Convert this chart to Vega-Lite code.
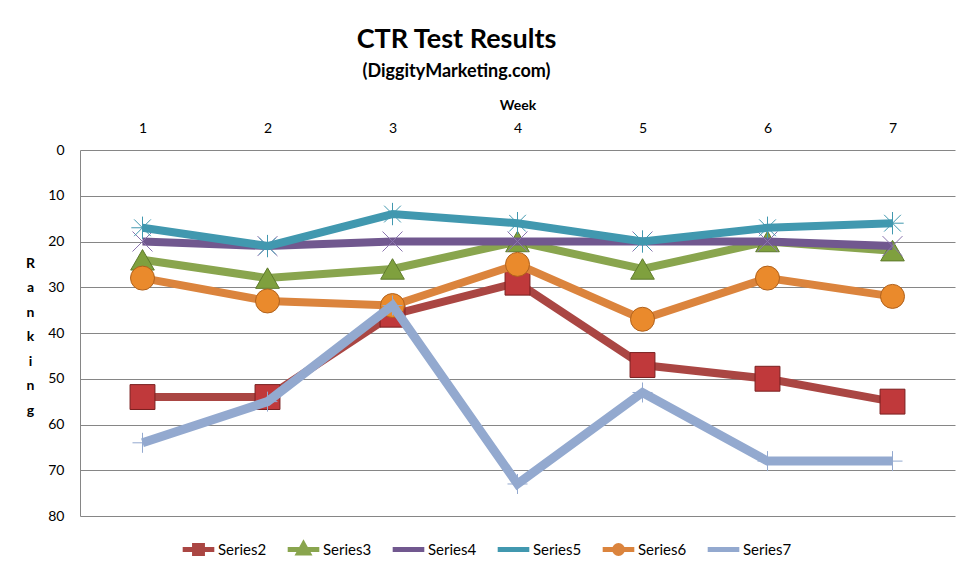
{
  "$schema": "https://vega.github.io/schema/vega-lite/v6.json",
  "width": 875,
  "height": 366,
  "autosize": {"type": "none"},
  "padding": {"left": 80, "top": 150, "right": 16, "bottom": 56},
  "background": "white",
  "config": {
    "font": "Lato",
    "view": {"stroke": null},
    "axis": {"labelFont": "Lato", "titleFont": "Lato", "labelColor": "black", "titleColor": "black"}
  },
  "title": {
    "text": "CTR Test Results",
    "subtitle": "(DiggityMarketing.com)",
    "fontSize": 27,
    "fontWeight": "bold",
    "color": "black",
    "subtitleFontSize": 18,
    "subtitleFontWeight": "bold",
    "subtitleColor": "black",
    "subtitlePadding": 9,
    "anchor": "middle",
    "dx": -61,
    "offset": 16
  },
  "data": {
    "values": [
      {"series": "Series2", "week": 1, "rank": 54},
      {"series": "Series2", "week": 2, "rank": 54},
      {"series": "Series2", "week": 3, "rank": 36},
      {"series": "Series2", "week": 4, "rank": 29},
      {"series": "Series2", "week": 5, "rank": 47},
      {"series": "Series2", "week": 6, "rank": 50},
      {"series": "Series2", "week": 7, "rank": 55},
      {"series": "Series3", "week": 1, "rank": 24},
      {"series": "Series3", "week": 2, "rank": 28},
      {"series": "Series3", "week": 3, "rank": 26},
      {"series": "Series3", "week": 4, "rank": 20},
      {"series": "Series3", "week": 5, "rank": 26},
      {"series": "Series3", "week": 6, "rank": 20},
      {"series": "Series3", "week": 7, "rank": 22},
      {"series": "Series4", "week": 1, "rank": 20},
      {"series": "Series4", "week": 2, "rank": 21},
      {"series": "Series4", "week": 3, "rank": 20},
      {"series": "Series4", "week": 4, "rank": 20},
      {"series": "Series4", "week": 5, "rank": 20},
      {"series": "Series4", "week": 6, "rank": 20},
      {"series": "Series4", "week": 7, "rank": 21},
      {"series": "Series5", "week": 1, "rank": 17},
      {"series": "Series5", "week": 2, "rank": 21},
      {"series": "Series5", "week": 3, "rank": 14},
      {"series": "Series5", "week": 4, "rank": 16},
      {"series": "Series5", "week": 5, "rank": 20},
      {"series": "Series5", "week": 6, "rank": 17},
      {"series": "Series5", "week": 7, "rank": 16},
      {"series": "Series6", "week": 1, "rank": 28},
      {"series": "Series6", "week": 2, "rank": 33},
      {"series": "Series6", "week": 3, "rank": 34},
      {"series": "Series6", "week": 4, "rank": 25},
      {"series": "Series6", "week": 5, "rank": 37},
      {"series": "Series6", "week": 6, "rank": 28},
      {"series": "Series6", "week": 7, "rank": 32},
      {"series": "Series7", "week": 1, "rank": 64},
      {"series": "Series7", "week": 2, "rank": 55},
      {"series": "Series7", "week": 3, "rank": 34},
      {"series": "Series7", "week": 4, "rank": 73},
      {"series": "Series7", "week": 5, "rank": 53},
      {"series": "Series7", "week": 6, "rank": 68},
      {"series": "Series7", "week": 7, "rank": 68}
    ]
  },
  "encoding": {
    "x": {
      "field": "week",
      "type": "ordinal",
      "scale": {"type": "point", "padding": 0.5},
      "axis": {
        "orient": "top",
        "title": "Week",
        "titleFontSize": 14,
        "titleFontWeight": "bold",
        "titlePadding": 9,
        "labelAngle": 0,
        "labelFontSize": 14,
        "labelPadding": 15,
        "domain": false,
        "ticks": false,
        "grid": false
      }
    },
    "y": {
      "field": "rank",
      "type": "quantitative",
      "scale": {"domain": [0, 80], "reverse": true, "nice": false},
      "axis": {
        "values": [0, 10, 20, 30, 40, 50, 60, 70, 80],
        "title": ["R", "a", "n", "k", "i", "n", "g"],
        "titleAngle": 0,
        "titleX": -50,
        "titleY": 113,
        "titleAlign": "center",
        "titleBaseline": "middle",
        "titleLineHeight": 24.5,
        "titleFontSize": 14,
        "titleFontWeight": "bold",
        "labelFontSize": 14,
        "labelPadding": 16,
        "ticks": false,
        "grid": true,
        "gridColor": "#868686",
        "gridWidth": 1,
        "domainColor": "#868686",
        "domainWidth": 1
      }
    }
  },
  "layer": [
    {
      "transform": [{"filter": "datum.series === 'Series2'"}],
      "layer": [
        {"mark": {"type": "line", "strokeWidth": 8}, "encoding": {"color": {"field": "series", "type": "nominal", "scale": {"domain": ["Series2", "Series3", "Series4", "Series5", "Series6", "Series7"], "range": ["#AA4643", "#89A54E", "#71588F", "#4198AF", "#DB843D", "#93A9CF"]}, "legend": {"orient": "none", "legendX": 100, "legendY": 381, "direction": "horizontal", "title": null, "symbolType": "stroke", "symbolSize": 1000, "symbolStrokeWidth": 5, "labelFontSize": 15, "labelFont": "Lato", "labelColor": "black", "columnPadding": 10, "labelOffset": 1, "encode": {"symbols": {"update": {"shape": {"signal": "datum.value === 'Series2' ? 'M-1,0L1,0M-0.25,-0.25L0.25,-0.25L0.25,0.25L-0.25,0.25ZM0,-0.34L0,-0.34M0,0.34L0,0.34' : datum.value === 'Series3' ? 'M-1,0L1,0M0,-0.32L0.3,0.22L-0.3,0.22ZM0,-0.34L0,-0.34M0,0.34L0,0.34' : datum.value === 'Series6' ? 'M-0.25,0A0.25,0.25 0 1,0 0.25,0A0.25,0.25 0 1,0 -0.25,0ZM-1,0L1,0M0,-0.34L0,-0.34M0,0.34L0,0.34' : 'M-1,0L1,0M0,-0.34L0,-0.34M0,0.34L0,0.34'"}, "fill": {"scale": "color", "field": "value"}, "strokeCap": {"value": "butt"}}}}}}}},
        {"mark": {"type": "point", "shape": "square", "size": 620, "filled": true, "fill": "#C0393B", "stroke": "#7A2020", "strokeWidth": 1, "opacity": 1}}
      ]
    },
    {
      "transform": [{"filter": "datum.series === 'Series3'"}],
      "layer": [
        {"mark": {"type": "line", "strokeWidth": 8}, "encoding": {"color": {"field": "series", "type": "nominal"}}},
        {"mark": {"type": "point", "shape": "triangle-up", "size": 560, "filled": true, "fill": "#7FA03E", "stroke": "#5E7A2C", "strokeWidth": 1, "opacity": 1}}
      ]
    },
    {
      "transform": [{"filter": "datum.series === 'Series4'"}],
      "layer": [
        {"mark": {"type": "line", "strokeWidth": 8}, "encoding": {"color": {"field": "series", "type": "nominal"}}},
        {"mark": {"type": "point", "shape": "M-1,-1L1,1M-1,1L1,-1", "size": 400, "filled": false, "stroke": "#8B74AE", "strokeWidth": 1, "opacity": 1}}
      ]
    },
    {
      "transform": [{"filter": "datum.series === 'Series5'"}],
      "layer": [
        {"mark": {"type": "line", "strokeWidth": 8}, "encoding": {"color": {"field": "series", "type": "nominal"}}},
        {"mark": {"type": "point", "shape": "M-1,0L1,0M0,-1L0,1M-0.75,-0.75L0.75,0.75M-0.75,0.75L0.75,-0.75", "size": 500, "filled": false, "stroke": "#4198AF", "strokeWidth": 1, "opacity": 1}}
      ]
    },
    {
      "transform": [{"filter": "datum.series === 'Series6'"}],
      "layer": [
        {"mark": {"type": "line", "strokeWidth": 8}, "encoding": {"color": {"field": "series", "type": "nominal"}}},
        {"mark": {"type": "point", "shape": "circle", "size": 576, "filled": true, "fill": "#EA8A2C", "stroke": "#B0611C", "strokeWidth": 1, "opacity": 1}}
      ]
    },
    {
      "transform": [{"filter": "datum.series === 'Series7'"}],
      "layer": [
        {"mark": {"type": "line", "strokeWidth": 9}, "encoding": {"color": {"field": "series", "type": "nominal"}}},
        {"mark": {"type": "point", "shape": "M-1,0L1,0M0,-1L0,1", "size": 400, "filled": false, "stroke": "#93A9CF", "strokeWidth": 1, "opacity": 1}}
      ]
    }
  ]
}
